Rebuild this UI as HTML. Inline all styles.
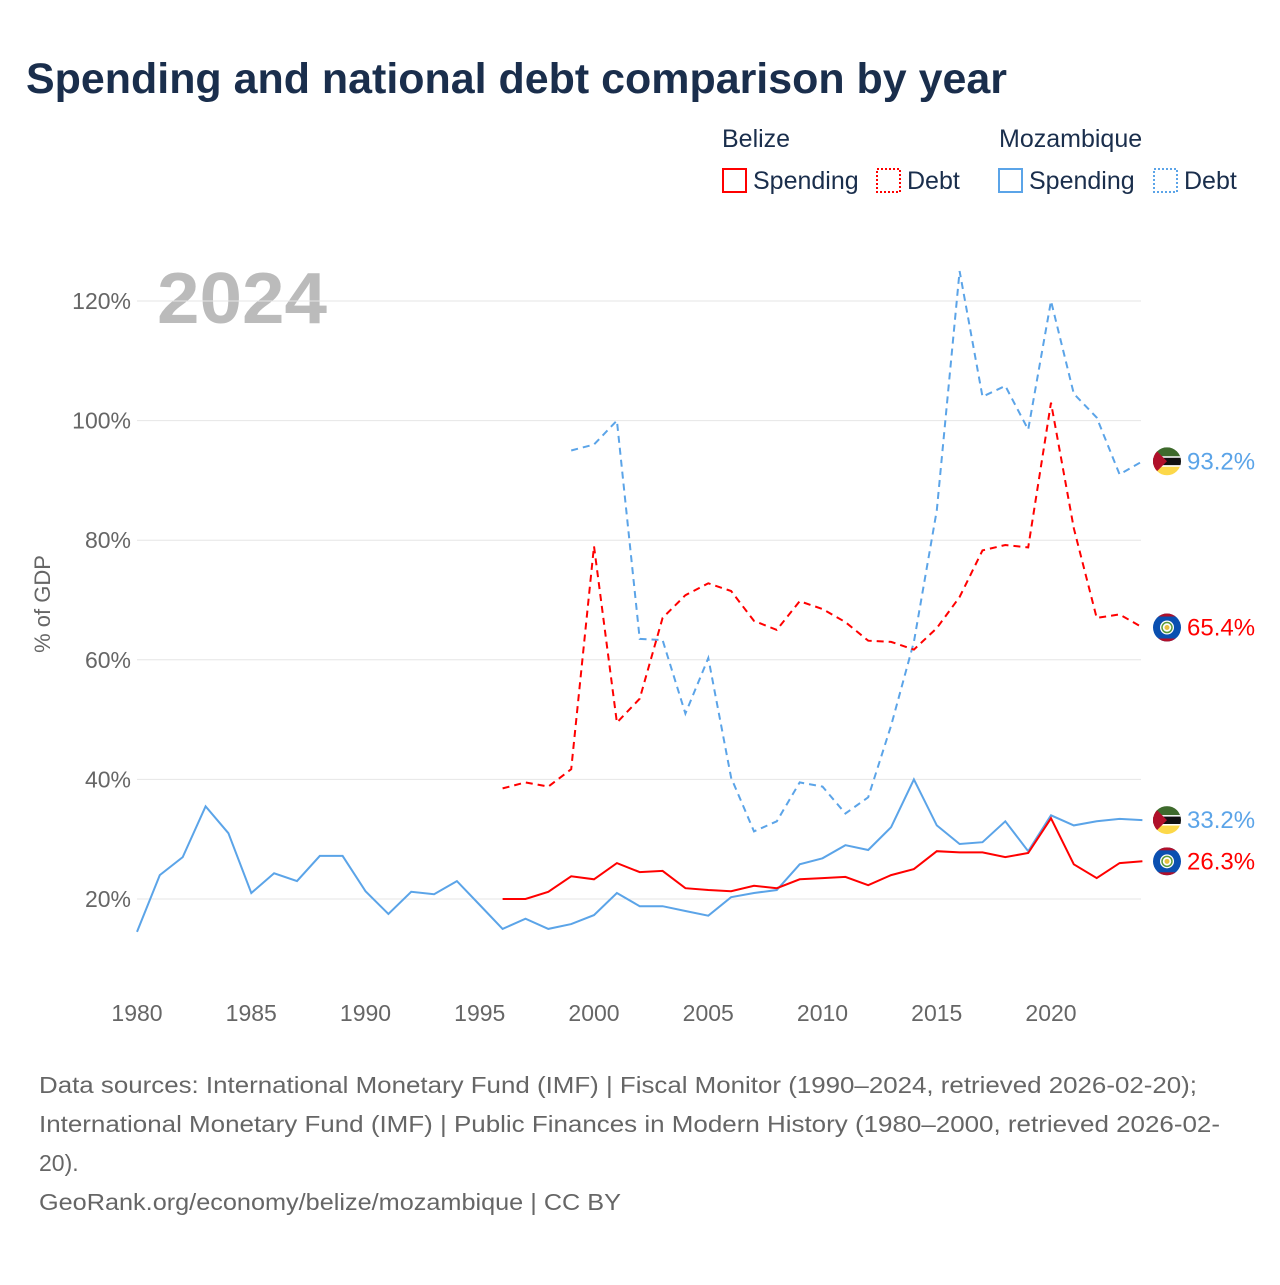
<!DOCTYPE html>
<html><head><meta charset="utf-8"><style>
body{margin:0;width:1280px;height:1280px;background:#fff;font-family:"Liberation Sans",sans-serif;overflow:hidden}
</style></head><body>
<svg id="c" width="1280" height="1280" xmlns="http://www.w3.org/2000/svg">
<defs>
<clipPath id="cl"><circle cx="0" cy="0" r="14"/></clipPath>
</defs>
<text x="26" y="93" font-size="43" font-weight="bold" fill="#1a2e4c" textLength="981" lengthAdjust="spacingAndGlyphs">Spending and national debt comparison by year</text>
<g font-size="25" fill="#1a2e4c">
<text x="722" y="147">Belize</text>
<text x="999" y="147">Mozambique</text>
<rect x="723" y="169" width="23" height="23" fill="none" stroke="red" stroke-width="2"/>
<text x="753" y="189">Spending</text>
<rect x="877" y="169" width="23" height="23" fill="none" stroke="red" stroke-width="2" stroke-dasharray="2,2"/>
<text x="907" y="189">Debt</text>
<rect x="999" y="169" width="23" height="23" fill="none" stroke="#5ba4e8" stroke-width="2"/>
<text x="1029" y="189">Spending</text>
<rect x="1154" y="169" width="23" height="23" fill="none" stroke="#5ba4e8" stroke-width="2" stroke-dasharray="2,2"/>
<text x="1184" y="189">Debt</text>
</g>
<text x="157" y="323" font-size="72" font-weight="bold" fill="#bbb" textLength="170" lengthAdjust="spacingAndGlyphs">2024</text>
<text transform="translate(50,604) rotate(-90)" text-anchor="middle" font-size="22" fill="#666">% of GDP</text>
<g id="grid"></g><g id="series"></g><g id="ends"></g>
<g font-size="23" fill="#666">
<text x="39" y="1093" textLength="1158" lengthAdjust="spacingAndGlyphs">Data sources: International Monetary Fund (IMF) | Fiscal Monitor (1990–2024, retrieved 2026-02-20);</text>
<text x="39" y="1132" textLength="1181" lengthAdjust="spacingAndGlyphs">International Monetary Fund (IMF) | Public Finances in Modern History (1980–2000, retrieved 2026-02-</text>
<text x="39" y="1171">20).</text>
<text x="39" y="1210" textLength="582" lengthAdjust="spacingAndGlyphs">GeoRank.org/economy/belize/mozambique | CC BY</text>
</g>
</svg>
<script>
const yTicks=[20,40,60,80,100,120];
const xTicks=[1980,1985,1990,1995,2000,2005,2010,2015,2020];
const mozSpendStart=1980;
const mozSpending=[14.5,24,27,35.5,31,21,24.3,23,27.2,27.2,21.3,17.5,21.2,20.8,23,19,15,16.7,15,15.8,17.3,21,18.8,18.8,18,17.2,20.3,21,21.5,25.8,26.8,29,28.2,32,40,32.3,29.2,29.5,33,28,34,32.3,33,33.4,33.2];
const belSpendStart=1996;
const belSpending=[20,20,21.2,23.8,23.3,26,24.5,24.7,21.8,21.5,21.3,22.2,21.8,23.3,23.5,23.7,22.3,24,25,28,27.8,27.8,27,27.7,33.5,25.8,23.5,26,26.3];
const belDebtStart=1996;
const belDebt=[38.5,39.5,38.8,41.7,79,49.5,53.5,67,70.8,72.8,71.5,66.5,65,69.8,68.5,66.3,63.2,63,61.7,65.3,70.5,78.3,79.2,78.8,103,82,67,67.6,65.4];
const mozDebtStart=1999;
const mozDebt=[95,96,100,63.5,63.3,51,60.3,40.3,31.3,33,39.5,38.8,34.3,37,49,63,85,125,104,105.8,98.5,120,104.5,100.5,91,93.2];

const NS="http://www.w3.org/2000/svg";
const X=y=>137+(y-1980)*22.85;
const Y=v=>1018.6-v*5.98;
function mk(t,a,p){const e=document.createElementNS(NS,t);for(const k in a)e.setAttribute(k,a[k]);p.appendChild(e);return e;}
const grid=document.getElementById('grid');
yTicks.forEach(v=>{
  const l=mk('line',{x1:137,x2:1141,y1:Y(v),y2:Y(v),stroke:'#e6e6e6','stroke-width':1},grid);
  
  
  const t=mk('text',{x:131,y:Y(v)+8,'text-anchor':'end','font-size':23,fill:'#666'},grid);
  t.textContent=v+'%';
  
  
});
xTicks.forEach(v=>{
  const t=mk('text',{x:X(v),y:1021,'text-anchor':'middle','font-size':23,fill:'#666'},grid);
  t.textContent=v;
  
  
});
const sg=document.getElementById('series');
function line(arr,start,col,dash,name){
  const d=arr.map((v,i)=>(i?'L':'M')+X(start+i).toFixed(1)+','+Y(v).toFixed(1)).join('');
  const p=mk('path',{d:d,fill:'none',stroke:col,'stroke-width':2,'stroke-dasharray':dash||'none'},sg);
  
  
}
line(mozSpending,mozSpendStart,'#5ba4e8',null,'mozambique-spending-line');
line(mozDebt,mozDebtStart,'#5ba4e8','7,5','mozambique-debt-line');
line(belSpending,belSpendStart,'red',null,'belize-spending-line');
line(belDebt,belDebtStart,'red','7,5','belize-debt-line');
const eg=document.getElementById('ends');
function flag(cy,type){
  const g=mk('g',{transform:'translate(1167,'+cy+')'},eg);
  
  
  const c=mk('g',{'clip-path':'url(#cl)'},g);
  if(type==='mozambique'){
    mk('rect',{x:-14,y:-14,width:28,height:10,fill:'#3e6a2c'},c);
    mk('rect',{x:-14,y:-4,width:28,height:8,fill:'#111'},c);
    mk('rect',{x:-14,y:-5,width:28,height:1.5,fill:'#fff'},c);
    mk('rect',{x:-14,y:4,width:28,height:1.5,fill:'#fff'},c);
    mk('rect',{x:-14,y:5.5,width:28,height:9,fill:'#fcd849'},c);
    mk('polygon',{points:'-14,-14 0,0 -14,14',fill:'#b0102a'},c);
  }else{
    mk('rect',{x:-14,y:-14,width:28,height:28,fill:'#0a4fb0'},c);
    mk('rect',{x:-14,y:-14,width:28,height:3,fill:'#b0102a'},c);
    mk('rect',{x:-14,y:11,width:28,height:3,fill:'#b0102a'},c);
    mk('circle',{cx:0,cy:0,r:7,fill:'#fff'},c);
    mk('circle',{cx:0,cy:0,r:5,fill:'none',stroke:'#5a9a3a','stroke-width':1.5},c);
    mk('circle',{cx:0,cy:0,r:2.5,fill:'#e8c040'},c);
  }
}
function endLabel(v,col,type,key){
  flag(Y(v),type);
  const t=mk('text',{x:1187,y:Y(v)+8,'font-size':24,fill:col},eg);
  t.textContent=v.toFixed(1)+'%';
  
  
}
endLabel(mozDebt[mozDebt.length-1],'#5ba4e8','mozambique','mozambique-debt');
endLabel(belDebt[belDebt.length-1],'red','belize','belize-debt');
endLabel(mozSpending[mozSpending.length-1],'#5ba4e8','mozambique','mozambique-spending');
endLabel(belSpending[belSpending.length-1],'red','belize','belize-spending');
</script>
</body></html>
